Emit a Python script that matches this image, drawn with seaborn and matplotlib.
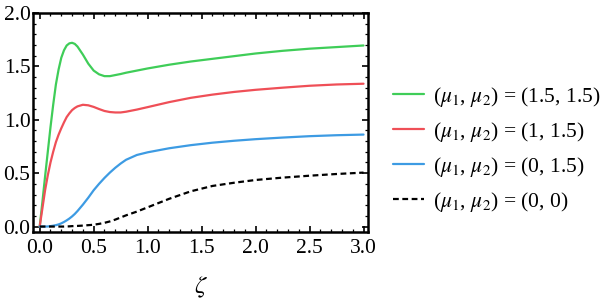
import numpy as np
import pandas as pd
import matplotlib
matplotlib.use("Agg")
import matplotlib.pyplot as plt
import seaborn as sns
from matplotlib.ticker import MultipleLocator

zeta = [0, 0.025, 0.05, 0.075, 0.1, 0.125, 0.15, 0.175, 0.2, 0.225, 0.25, 0.275, 0.3, 0.325,
        0.35, 0.4, 0.45, 0.5, 0.55, 0.6, 0.65, 0.7, 0.75, 0.8, 0.9, 1.0, 1.2, 1.4, 1.6, 1.8,
        2.0, 2.25, 2.5, 2.75, 3.0]

green = [0, 0.23, 0.47, 0.70, 0.93, 1.14, 1.33, 1.47, 1.58, 1.65, 1.695, 1.715, 1.72, 1.71,
         1.685, 1.61, 1.525, 1.46, 1.425, 1.408, 1.408, 1.418, 1.428, 1.44, 1.46, 1.48,
         1.515, 1.545, 1.57, 1.595, 1.62, 1.645, 1.665, 1.68, 1.695]
red = [0, 0.17, 0.34, 0.48, 0.60, 0.70, 0.79, 0.86, 0.92, 0.975, 1.025, 1.06, 1.09, 1.11,
       1.125, 1.14, 1.135, 1.12, 1.10, 1.082, 1.072, 1.068, 1.068, 1.075, 1.095, 1.118,
       1.165, 1.205, 1.235, 1.26, 1.28, 1.30, 1.318, 1.33, 1.337]
blue = [0, 0, 0, 0.001, 0.004, 0.008, 0.013, 0.02, 0.03, 0.043, 0.058, 0.075, 0.095, 0.118,
        0.145, 0.205, 0.27, 0.34, 0.40, 0.455, 0.505, 0.55, 0.59, 0.625, 0.67, 0.695,
        0.733, 0.762, 0.785, 0.803, 0.818, 0.833, 0.846, 0.855, 0.861]
black = [0, 0, 0, 0, 0, 0, 0, 0, 0, 0, 0.001, 0.002, 0.004, 0.005, 0.006, 0.009, 0.013,
         0.017, 0.025, 0.035, 0.048, 0.065, 0.085, 0.105, 0.14, 0.18, 0.26, 0.33, 0.38,
         0.41, 0.436, 0.458, 0.476, 0.492, 0.505]

labels = [r"($\mu_1$, $\mu_2$) = (1.5, 1.5)",
          r"($\mu_1$, $\mu_2$) = (1, 1.5)",
          r"($\mu_1$, $\mu_2$) = (0, 1.5)",
          r"($\mu_1$, $\mu_2$) = (0, 0)"]
colors = ["#3fcd58", "#ef4f57", "#3d9be3", "#000000"]

df = pd.concat([
    pd.DataFrame({"zeta": zeta, "value": vals, "case": lab})
    for vals, lab in zip([green, red, blue, black], labels)
])

sns.set_style("ticks", {"axes.edgecolor": "black", "xtick.color": "black",
                        "ytick.color": "black", "text.color": "black",
                        "axes.labelcolor": "black"})
plt.rcParams["font.family"] = ["Liberation Serif", "DejaVu Serif"]
plt.rcParams["mathtext.fontset"] = "stix"

fig = plt.figure(figsize=(6.04, 3.0), dpi=100)
ax = fig.add_axes([0.055, 0.227, 0.554, 0.73])

sns.lineplot(data=df, x="zeta", y="value", hue="case", style="case",
             hue_order=labels, style_order=labels,
             palette=dict(zip(labels, colors)),
             dashes={labels[0]: "", labels[1]: "", labels[2]: "", labels[3]: (2.6, 1.6)},
             linewidth=1.6, ax=ax)

ax.set_xlim(-0.06, 3.04)
ax.set_ylim(-0.05, 2.0)
ax.xaxis.set_major_locator(MultipleLocator(0.5))
ax.xaxis.set_minor_locator(MultipleLocator(0.1))
ax.yaxis.set_major_locator(MultipleLocator(0.5))
ax.yaxis.set_minor_locator(MultipleLocator(0.1))
ax.xaxis.set_major_formatter(plt.FormatStrFormatter("%.1f"))
ax.yaxis.set_major_formatter(plt.FormatStrFormatter("%.1f"))
ax.tick_params(which="both", direction="in", top=True, right=True, labelsize=15.5)
ax.tick_params(axis="x", which="major", pad=5)
ax.tick_params(axis="y", which="major", pad=2)
ax.tick_params(which="major", length=4, width=1.2)
ax.tick_params(which="minor", length=2, width=0.9)
for s in ax.spines.values():
    s.set_linewidth(1.8)
    s.set_color("black")

ax.set_xlabel(r"$\zeta$", fontsize=18, labelpad=12)
ax.set_ylabel("")

ax.legend(loc="center left", bbox_to_anchor=(1.018, 0.378), frameon=False,
          fontsize=15.5, handlelength=1.44, labelspacing=0.51, handletextpad=0.42)

fig.savefig("out.png", dpi=100)
